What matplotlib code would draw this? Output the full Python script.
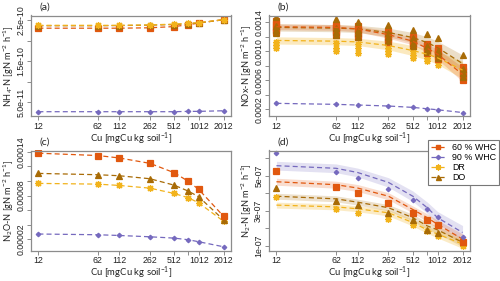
import numpy as np
import matplotlib
matplotlib.use("Agg")
import matplotlib.pyplot as plt
from matplotlib.lines import Line2D

plt.rcParams['font.family'] = ['Liberation Sans', 'DejaVu Sans']
plt.rcParams['mathtext.default'] = 'regular'

# ---------------- data ----------------
cu = [12, 62, 112, 262, 512, 762, 1012, 2012]
cu_tick_labels = ['12', '62', '112', '262', '512', '', '1012', '2012']
series_names = ['60 % WHC', '90 % WHC', 'DR', 'DO']

# (a) NH4-N
nh4_60 = [2.31e-10, 2.31e-10, 2.31e-10, 2.32e-10, 2.35e-10, 2.395e-10, 2.435e-10, 2.52e-10]
nh4_90 = [2.72e-11, 2.72e-11, 2.72e-11, 2.72e-11, 2.72e-11, 2.8e-11, 2.8e-11, 2.95e-11]
nh4_dr = [2.38e-10, 2.38e-10, 2.38e-10, 2.39e-10, 2.41e-10, 2.43e-10, 2.445e-10, 2.52e-10]
nh4_do = [2.37e-10, 2.37e-10, 2.375e-10, 2.385e-10, 2.40e-10, 2.42e-10, 2.44e-10, 2.515e-10]

# (b) NOx-N : fitted curves, band half widths, replicate observations
nox_fit_60 = [0.00134, 0.00133, 0.00131, 0.00123, 0.00114, 0.00104, 0.00096, 0.00068]
nox_fit_do = [0.00133, 0.00132, 0.00131, 0.00126, 0.00119, 0.00112, 0.00105, 0.00083]
nox_fit_dr = [0.00115, 0.00114, 0.00113, 0.00108, 0.00101, 0.00096, 0.00091, 0.00074]
nox_band_60 = [0.00004, 0.00004, 0.00004, 0.00005, 0.00005, 0.00006, 0.00007, 0.0001]
nox_band_do = [0.00005, 0.00005, 0.00005, 0.00006, 0.00007, 0.00008, 0.00009, 0.00012]
nox_band_dr = [0.00005, 0.00005, 0.00005, 0.00006, 0.00007, 0.00008, 0.00009, 0.00012]
nox_90 = [0.00028, 0.000266, 0.000257, 0.000243, 0.000224, 0.000205, 0.000191, 0.000153]
nox_obs_60 = [
    [0.00142, 0.00138, 0.00134, 0.00130, 0.00126],
    [0.00137, 0.00133, 0.00130, 0.00126, 0.00122],
    [0.00135, 0.00131, 0.00128, 0.00124, 0.00120],
    [0.00128, 0.00124, 0.00120, 0.00117, 0.00113],
    [0.00120, 0.00117, 0.00114, 0.00110, 0.00107],
    [0.00110, 0.00107, 0.00104, 0.00101, 0.00098],
    [0.00105, 0.00101, 0.00097, 0.00093, 0.00089],
    [0.00078, 0.00073, 0.00069, 0.00065, 0.00060],
]
nox_obs_do = [
    [0.00147, 0.00135, 0.00130, 0.00125],
    [0.00144, 0.00132, 0.00127, 0.00122],
    [0.00141, 0.00130, 0.00125, 0.00120],
    [0.00137, 0.00125, 0.00120, 0.00114],
    [0.00130, 0.00118, 0.00112, 0.00108],
    [0.00124, 0.00108, 0.00102, 0.00099],
    [0.00118, 0.00100, 0.00096, 0.00091],
    [0.00095, 0.00075, 0.00070, 0.00064],
]
nox_obs_dr = [
    [0.00113, 0.00109, 0.00105],
    [0.00111, 0.00105, 0.00100],
    [0.00110, 0.00104, 0.00098],
    [0.00105, 0.00100, 0.00096],
    [0.00100, 0.00095, 0.00091],
    [0.00096, 0.00091, 0.00086],
    [0.00091, 0.00086, 0.00081],
    [0.00074, 0.00068, 0.00063],
]

# (c) N2O-N
n2o_60 = [0.000138, 0.0001348, 0.0001315, 0.0001241, 0.0001113, 0.0000993, 0.0000883, 0.0000515]
n2o_90 = [0.0000272, 0.0000262, 0.0000252, 0.0000234, 0.0000216, 0.0000193, 0.0000166, 0.0000097]
n2o_dr = [0.0000966, 0.0000956, 0.0000938, 0.0000901, 0.0000828, 0.0000768, 0.0000699, 0.0000446]
n2o_do = [0.0001103, 0.0001085, 0.0001071, 0.000103, 0.0000942, 0.0000859, 0.0000782, 0.0000465]

# (d) N2-N : observations, fitted curves, band half widths
n2_obs_60 = [5.3e-7, 4.37e-7, 4.02e-7, 3.45e-7, 2.88e-7, 2.47e-7, 2.17e-7, 1.23e-7]
n2_obs_90 = [6.28e-7, 5.24e-7, 4.87e-7, 4.24e-7, 3.6e-7, 3.07e-7, 2.66e-7, 1.49e-7]
n2_obs_dr = [3.79e-7, 3.11e-7, 2.88e-7, 2.51e-7, 2.17e-7, 1.85e-7, 1.57e-7, 1.0e-7]
n2_obs_do = [4.3e-7, 3.55e-7, 3.3e-7, 2.85e-7, 2.47e-7, 1.89e-7, 1.75e-7, 1.19e-7]
n2_fit_60 = [4.66e-7, 4.49e-7, 4.30e-7, 3.83e-7, 3.07e-7, 2.6e-7, 2.22e-7, 1.37e-7]
n2_fit_90 = [5.58e-7, 5.43e-7, 5.19e-7, 4.62e-7, 3.83e-7, 3.17e-7, 2.6e-7, 1.75e-7]
n2_fit_dr = [3.32e-7, 3.22e-7, 3.11e-7, 2.88e-7, 2.32e-7, 1.9e-7, 1.66e-7, 1.09e-7]
n2_fit_do = [3.83e-7, 3.68e-7, 3.49e-7, 3.17e-7, 2.6e-7, 2.13e-7, 1.9e-7, 1.19e-7]
n2_band_60 = [0.2e-7, 0.2e-7, 0.2e-7, 0.2e-7, 0.2e-7, 0.22e-7, 0.24e-7, 0.3e-7]
n2_band_90 = [0.25e-7, 0.25e-7, 0.25e-7, 0.27e-7, 0.3e-7, 0.32e-7, 0.35e-7, 0.4e-7]
n2_band_dr = [0.17e-7, 0.17e-7, 0.17e-7, 0.18e-7, 0.2e-7, 0.2e-7, 0.22e-7, 0.25e-7]
n2_band_do = [0.17e-7, 0.17e-7, 0.17e-7, 0.18e-7, 0.2e-7, 0.2e-7, 0.22e-7, 0.25e-7]

# ---------------- style ----------------
C60 = '#E1580F'
C90 = '#7569BE'
CDR = '#F2B31C'
CDO = '#A86B06'
STAR = (8, 2, 0)
ms_sq = 4.2
GRAY = '#8c8c8c'

W, H = 500, 281
fig = plt.figure(figsize=(5.0, 2.81), dpi=100)

PANELS = {}
def axes_px(l, r, t, b):
    ax = fig.add_axes([l / W, 1 - b / H, (r - l) / W, (b - t) / H])
    PANELS[ax] = (l, r, t, b)
    return ax

ax_a = axes_px(31, 231, 15.5, 116)
ax_b = axes_px(269, 470, 15.5, 116)
ax_c = axes_px(31, 231, 150.5, 250.5)
ax_d = axes_px(269, 470, 150.5, 250.5)

lx0 = np.log10(12); lx1 = np.log10(2012); pad = 0.04 * (lx1 - lx0)
xlim = (10 ** (lx0 - pad), 10 ** (lx1 + pad))

def style(ax, yticks, ylabels, ylim, ylab, tag, ylab_x):
    l, r, t, b = PANELS[ax]
    ax.set_xscale('log')
    ax.set_xlim(*xlim)
    ax.set_xticks(cu)
    ax.set_xticklabels(cu_tick_labels)
    ax.minorticks_off()
    ax.set_ylim(*ylim)
    ax.set_yticks(yticks)
    ax.set_yticklabels(ylabels, rotation=90, va='center')
    for s in ax.spines.values():
        s.set_color(GRAY)
        s.set_linewidth(0.9)
    ax.tick_params(axis='both', colors=GRAY, labelcolor='#222222', labelsize=6.3,
                   length=3, width=0.7, pad=1.2)
    ax.set_xlabel('Cu [mgCu kg soil$^{-1}$]', fontsize=6.8, family='Lato', color='#222222')
    ax.xaxis.label.set_va('center')
    ax.xaxis.set_label_coords(0.5, -(22.5) / (b - t))
    ax.set_ylabel(ylab, fontsize=6.6, family='Lato', color='#222222')
    ax.yaxis.label.set_va('center')
    ax.yaxis.set_label_coords((ylab_x - l) / (r - l), 0.5)
    ax.text((l + 8) / W, 1 - (t - 8) / H, tag, transform=fig.transFigure, fontsize=7.5,
            family='Lato', ha='left', va='center', color='#222222')

kw_line = dict(ls='--', lw=0.9, dashes=(4, 2.5))

def linepts(ax, y, c, m, ms, **extra):
    ax.plot(cu, y, color=c, marker=m, ms=ms, mec=c, mfc=c, mew=0.9, **kw_line, **extra)

# (a)
linepts(ax_a, nh4_90, C90, 'D', 2.3)
linepts(ax_a, nh4_60, C60, 's', ms_sq)
linepts(ax_a, nh4_do, CDO, '^', 4.2)
linepts(ax_a, nh4_dr, CDR, STAR, 5)
style(ax_a, [5e-11, 1e-10, 1.5e-10, 2e-10, 2.5e-10], ['5.0e-11', '', '1.5e-10', '', '2.5e-10'],
      (1.67e-11, 2.62e-10), 'NH$_4$-N [gN m$^{-2}$ h$^{-1}$]', '(a)', 9.0)

# (b)
for fit, band, c, a in [(nox_fit_dr, nox_band_dr, CDR, 0.28), (nox_fit_do, nox_band_do, CDO, 0.22),
                        (nox_fit_60, nox_band_60, C60, 0.22)]:
    f = np.array(fit); b = np.array(band)
    ax_b.fill_between(cu, f - b, f + b, color=c, alpha=a, lw=0)
for obs, c, m, ms in [(nox_obs_dr, CDR, STAR, 5), (nox_obs_60, C60, 's', ms_sq), (nox_obs_do, CDO, '^', 4.2)]:
    for xv, vals in zip(cu, obs):
        ax_b.plot([xv] * len(vals), vals, ls='none', marker=m, ms=ms, color=c, mec=c, mew=0.9)
ax_b.plot(cu, nox_fit_dr, color=CDR, **kw_line)
ax_b.plot(cu, nox_fit_do, color=CDO, **kw_line)
ax_b.plot(cu, nox_fit_60, color=C60, **kw_line)
linepts(ax_b, nox_90, C90, 'D', 2.3)
style(ax_b, [0.0002, 0.0004, 0.0006, 0.0008, 0.0010, 0.0012, 0.0014],
      ['0.0002', '', '0.0006', '', '0.0010', '', '0.0014'],
      (0.000105, 0.001495), 'NOx-N [gN m$^{-2}$ h$^{-1}$]', '(b)', 246.5)

# (c)
linepts(ax_c, n2o_90, C90, 'D', 2.3)
linepts(ax_c, n2o_dr, CDR, STAR, 5)
linepts(ax_c, n2o_do, CDO, '^', 4.2)
linepts(ax_c, n2o_60, C60, 's', ms_sq)
style(ax_c, [0.00002, 0.00004, 0.00006, 0.00008, 0.00010, 0.00012, 0.00014],
      ['0.00002', '', '', '0.00008', '', '', '0.00014'],
      (0.0000046, 0.0001417), 'N$_2$O-N [gN m$^{-2}$ h$^{-1}$]', '(c)', 8.5)

# (d)
for fit, band, c, a in [(n2_fit_90, n2_band_90, C90, 0.2), (n2_fit_60, n2_band_60, C60, 0.2),
                        (n2_fit_do, n2_band_do, CDO, 0.2), (n2_fit_dr, n2_band_dr, CDR, 0.25)]:
    f = np.array(fit); b = np.array(band)
    ax_d.fill_between(cu, f - b, f + b, color=c, alpha=a, lw=0)
for fit, c in [(n2_fit_90, C90), (n2_fit_60, C60), (n2_fit_do, CDO), (n2_fit_dr, CDR)]:
    ax_d.plot(cu, fit, color=c, **kw_line)
for obs, c, m, ms in [(n2_obs_dr, CDR, STAR, 5), (n2_obs_do, CDO, '^', 4.2),
                      (n2_obs_60, C60, 's', ms_sq), (n2_obs_90, C90, 'D', 2.3)]:
    ax_d.plot(cu, obs, ls='none', marker=m, ms=ms, color=c, mec=c, mew=0.9)
style(ax_d, [1e-7, 2e-7, 3e-7, 4e-7, 5e-7, 6e-7], ['1e-07', '', '3e-07', '', '5e-07', ''],
      (0.72e-7, 6.45e-7), 'N$_2$-N [gN m$^{-2}$ h$^{-1}$]', '(d)', 247.0)

handles = [
    Line2D([], [], color=C60, marker='s', ms=3.3, **kw_line),
    Line2D([], [], color=C90, marker='D', ms=2.2, **kw_line),
    Line2D([], [], color=CDR, marker=STAR, ms=4.3, mew=0.9, **kw_line),
    Line2D([], [], color=CDO, marker='^', ms=3.6, **kw_line),
]
leg = fig.legend(handles, series_names, loc='upper left', bbox_to_anchor=(428 / W, 1 - 140 / H),
                 frameon=True, fancybox=False, framealpha=1, edgecolor='#777777',
                 handlelength=1.6, handletextpad=0.8, labelspacing=0.12, borderpad=0.3,
                 borderaxespad=0, prop={'family': 'Liberation Sans', 'size': 6.4})
leg.get_frame().set_linewidth(0.8)

fig.savefig('out.png', dpi=100)
